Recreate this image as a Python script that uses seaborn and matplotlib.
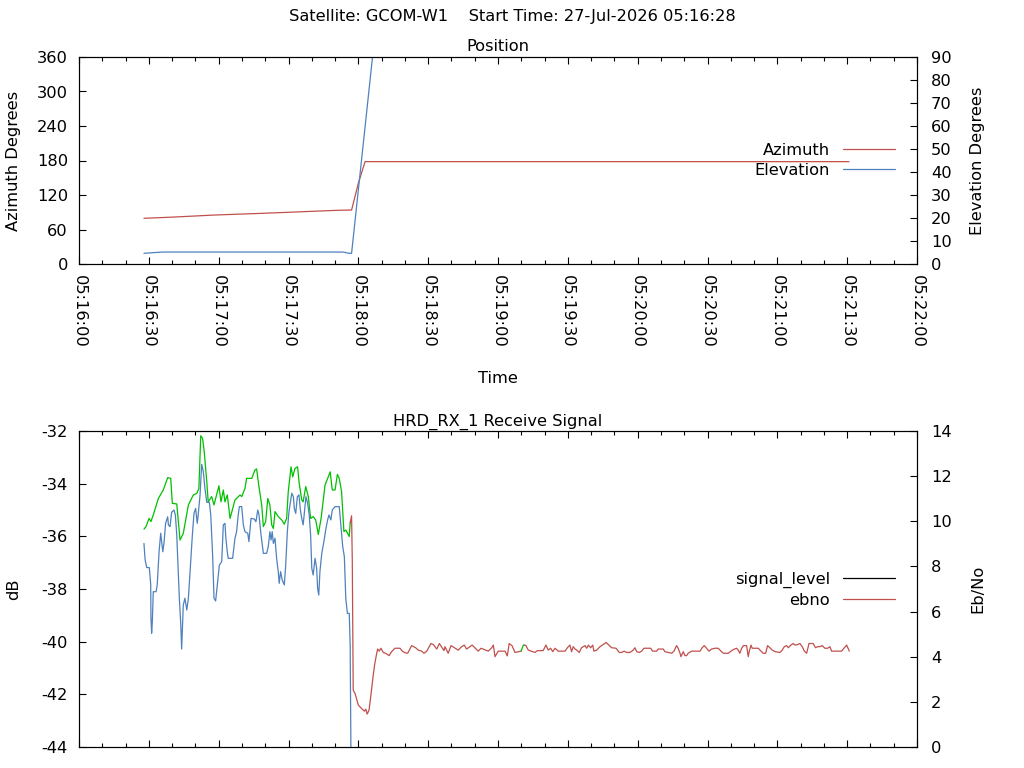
import pandas as pd
import matplotlib
matplotlib.use("Agg")
import matplotlib.pyplot as plt
import matplotlib.dates as mdates
from matplotlib.lines import Line2D
import seaborn as sns

START = pd.Timestamp("2026-07-27 05:16:00")

# all times are seconds after 05:16:00
az_t = [27.9, 38.4, 58.4, 79.2, 100.0, 110.4, 117.1, 120.0, 122.9, 330.8]
az_deg = [79.5, 81.2, 85.2, 88.2, 91.6, 93.3, 93.9, 140.3, 178.0, 178.0]

el_t = [27.9, 35.7, 113.4, 116.0, 117.1, 126.2]
el_deg = [4.65, 5.2, 5.2, 4.65, 4.65, 91.0]

# signal level while locked (green)
sig_lock_t = [27.9, 28.8, 30.1, 30.9, 31.9, 34.1, 36.2, 38.1, 39.4, 40.1,
              42.0, 43.4, 44.8, 47.0, 49.1, 50.6, 51.5, 52.3, 53.1, 53.8,
              54.9, 55.5, 57.0, 58.0, 60.1, 61.0, 62.0, 62.7, 63.7, 64.9,
              67.0, 69.2, 69.9, 71.3, 72.0, 74.2, 75.6, 76.3, 77.3, 78.5,
              79.2, 80.2, 81.1, 82.0, 82.8, 83.5, 84.2, 85.6, 87.1, 88.2,
              89.2, 89.9, 91.1, 91.8, 92.8, 93.9, 94.6, 95.7, 96.3, 97.4,
              98.5, 99.5, 100.6, 101.7, 102.8, 104.0, 105.7, 107.4, 107.9, 108.8,
              110.0, 111.0, 111.8, 112.8, 113.8, 114.6, 115.4, 116.1, 116.5]
sig_lock_db = [-35.73, -35.63, -35.32, -35.44, -35.19, -34.56, -34.24, -33.77, -33.80, -34.75,
               -34.77, -36.14, -35.89, -34.81, -34.43, -34.37, -34.18, -32.18, -32.28, -32.79,
               -33.93, -34.69, -34.49, -34.81, -34.08, -34.69, -34.24, -34.69, -34.43, -35.32,
               -34.62, -34.43, -34.49, -34.18, -33.80, -33.80, -33.48, -33.44, -34.11, -34.81,
               -35.63, -35.44, -34.56, -34.81, -35.57, -35.70, -35.06, -35.25, -35.38, -35.54,
               -35.32, -34.30, -33.36, -33.74, -33.42, -33.36, -33.99, -34.62, -34.69, -34.11,
               -34.49, -35.32, -35.25, -35.38, -35.93, -35.32, -34.05, -33.67, -33.55, -34.24,
               -34.24, -33.65, -33.80, -34.30, -35.82, -35.76, -35.89, -36.01, -35.48]

# signal level after loss of lock (red)
sig_lost1_t = [116.5, 117.1, 117.4, 117.8, 118.6, 120.0, 121.4, 122.6, 123.2, 123.8,
               124.6, 125.4, 126.4, 127.1, 127.9, 128.3, 129.0, 129.7, 130.7, 131.7,
               133.2, 134.3, 135.7, 137.9, 138.9, 140.0, 141.2, 141.9, 142.9, 144.6,
               145.7, 147.2, 148.2, 149.4, 151.2, 152.2, 153.7, 154.8, 156.8, 157.2,
               158.6, 159.8, 162.9, 164.4, 165.5, 166.5, 168.9, 171.5, 172.7, 175.8,
               177.3, 178.0, 178.7, 180.1, 183.0, 184.0, 184.8, 186.0, 187.3, 189.9]
sig_lost1_db = [-35.48, -35.22, -36.90, -41.84, -41.97, -42.41, -42.54, -42.64, -42.56, -42.75,
                -42.60, -42.03, -41.27, -40.82, -40.44, -40.28, -40.36, -40.25, -40.41, -40.44,
                -40.53, -40.38, -40.25, -40.25, -40.36, -40.42, -40.44, -40.32, -40.15, -40.23,
                -40.32, -40.36, -40.44, -40.36, -40.07, -40.11, -40.28, -40.07, -40.34, -40.19,
                -40.44, -40.15, -40.32, -40.19, -40.13, -40.28, -40.13, -40.36, -40.25, -40.36,
                -40.23, -40.13, -40.57, -40.36, -40.36, -40.54, -40.07, -40.15, -40.41, -40.36]

sig_relock_t = [189.9, 190.9, 191.3]
sig_relock_db = [-40.36, -40.13, -40.13]

sig_lost2_t = [191.3, 192.0, 193.0, 195.9, 196.9, 199.4, 200.6, 201.6, 202.6, 203.5,
               204.5, 205.9, 208.8, 209.8, 210.9, 211.6, 212.3, 213.1, 213.8, 214.9,
               215.9, 217.4, 218.1, 218.8, 219.8, 220.7, 221.2, 222.4, 223.8, 225.2,
               226.4, 227.4, 228.8, 230.7, 232.1, 233.1, 234.1, 235.3, 236.7, 238.1,
               238.8, 239.6, 240.7, 241.7, 242.7, 245.6, 246.4, 248.2, 248.8, 251.0,
               251.7, 254.6, 255.6, 256.7, 257.4, 258.2, 258.6, 259.6, 260.3, 261.0,
               261.7, 263.2, 266.8, 267.7, 268.6, 269.6, 270.6, 271.8, 273.2, 274.6,
               275.8, 276.8, 278.9, 280.1, 281.1, 282.5, 283.2, 283.9, 284.7, 285.4,
               286.8, 287.5, 287.9, 288.7, 289.2, 291.8, 293.0, 293.9, 295.0, 295.8,
               296.8, 297.8, 299.0, 301.1, 302.1, 303.0, 304.0, 304.7, 305.8, 306.8,
               307.6, 308.7, 309.7, 310.7, 311.6, 312.6, 313.6, 315.4, 316.4, 317.3,
               318.3, 319.3, 320.4, 321.6, 322.6, 323.3, 326.2, 327.6, 328.8, 329.8,
               330.9]
sig_lost2_db = [-40.13, -40.15, -40.32, -40.41, -40.34, -40.34, -40.13, -40.32, -40.25, -40.38,
                -40.25, -40.36, -40.36, -40.23, -40.13, -40.38, -40.19, -40.28, -40.32, -40.41,
                -40.23, -40.15, -40.25, -40.13, -40.23, -40.13, -40.36, -40.32, -40.19, -40.11,
                -40.03, -40.11, -40.23, -40.25, -40.41, -40.41, -40.36, -40.41, -40.41, -40.32,
                -40.23, -40.38, -40.41, -40.36, -40.25, -40.25, -40.36, -40.36, -40.28, -40.28,
                -40.38, -40.44, -40.36, -40.15, -40.25, -40.44, -40.57, -40.38, -40.53, -40.53,
                -40.44, -40.36, -40.36, -40.23, -40.15, -40.25, -40.36, -40.28, -40.25, -40.25,
                -40.36, -40.44, -40.44, -40.36, -40.30, -40.25, -40.32, -40.44, -40.25, -40.15,
                -40.15, -40.57, -40.38, -40.13, -40.25, -40.25, -40.36, -40.44, -40.44, -40.15,
                -40.23, -40.32, -40.38, -40.41, -40.32, -40.19, -40.15, -40.23, -40.13, -40.07,
                -40.13, -40.11, -40.07, -40.19, -40.36, -40.44, -40.07, -40.07, -40.23, -40.19,
                -40.19, -40.15, -40.25, -40.25, -40.19, -40.36, -40.36, -40.36, -40.23, -40.13,
                -40.36]

# Eb/No (blue)
ebno_t = [27.9, 28.4, 29.1, 30.2, 30.8, 30.9, 31.2, 31.5, 31.9, 33.1,
          33.6, 34.4, 35.1, 35.5, 36.0, 36.5, 37.2, 38.1, 38.4, 39.1,
          39.8, 40.8, 41.4, 42.0, 42.4, 43.1, 43.7, 44.1, 44.5, 44.8,
          45.5, 46.3, 47.0, 47.7, 48.7, 49.4, 50.1, 50.8, 51.2, 52.0,
          52.7, 53.4, 54.1, 54.9, 56.0, 56.6, 57.4, 58.0, 58.7, 59.4,
          60.3, 61.3, 62.0, 62.7, 63.1, 63.7, 64.1, 66.0, 67.0, 67.7,
          68.4, 68.9, 69.9, 70.6, 71.3, 72.5, 73.0, 73.9, 75.3, 76.0,
          76.8, 77.3, 78.2, 79.2, 80.6, 81.3, 82.0, 82.5, 83.0, 83.5,
          84.2, 84.9, 85.6, 86.0, 86.6, 87.3, 88.2, 88.8, 89.5, 90.2,
          91.4, 92.1, 92.5, 93.1, 93.8, 94.5, 95.1, 95.7, 96.3, 96.8,
          97.5, 98.2, 98.9, 99.5, 100.0, 100.6, 101.4, 102.1, 102.5, 103.0,
          103.5, 104.3, 105.2, 106.1, 106.8, 107.4, 108.2, 108.8, 110.0, 111.8,
          112.5, 113.3, 114.0, 114.6, 115.3, 116.1, 116.5, 116.7, 116.8]
ebno_val = [9.02, 8.29, 7.95, 7.95, 7.21, 5.77, 5.04, 5.55, 6.88, 6.88,
            7.18, 8.65, 9.47, 9.10, 8.65, 9.02, 9.91, 10.20, 9.84, 9.76,
            10.40, 10.50, 10.28, 9.39, 8.36, 6.59, 5.48, 4.34, 5.41, 6.29,
            6.59, 6.07, 6.59, 7.77, 9.39, 10.35, 10.57, 9.91, 10.28, 11.17,
            12.52, 12.20, 11.46, 10.84, 10.84, 10.28, 8.51, 6.59, 6.47, 7.18,
            8.06, 8.21, 9.84, 9.91, 9.25, 8.65, 8.36, 8.36, 9.25, 9.54,
            10.28, 10.65, 10.65, 9.84, 9.54, 9.47, 9.10, 10.13, 10.10, 9.98,
            10.50, 10.31, 9.39, 8.58, 8.58, 8.87, 9.54, 9.17, 9.54, 9.02,
            9.25, 8.36, 7.77, 7.25, 7.77, 7.40, 7.18, 8.06, 9.54, 10.43,
            11.24, 11.09, 10.57, 10.35, 11.09, 11.17, 10.50, 10.13, 9.84, 10.35,
            11.09, 10.80, 10.28, 9.39, 7.92, 7.62, 8.36, 7.92, 7.03, 6.73,
            7.77, 8.58, 9.10, 9.69, 10.06, 10.28, 10.06, 10.50, 10.65, 10.65,
            9.84, 8.87, 8.43, 6.59, 5.92, 5.92, 4.44, 1.42, 0.0]

RED = "#c0504d"
BLUE = "#4f81bd"
GREEN = "#00c000"
LW = 0.9
FS = 11.7


def to_time(secs):
    return START + pd.to_timedelta(secs, unit="s")


def style_time_axis(ax, labels=True):
    ax.set_xlim(START, START + pd.Timedelta(seconds=360))
    ax.xaxis.set_major_locator(mdates.SecondLocator(bysecond=[0, 30]))
    ax.xaxis.set_minor_locator(mdates.SecondLocator(bysecond=[10, 20, 40, 50]))
    ax.xaxis.set_major_formatter(mdates.DateFormatter("%H:%M:%S"))
    ax.tick_params(axis="x", which="both", direction="in", top=True, bottom=True,
                   labelrotation=-90, pad=8, labelbottom=labels)
    ax.tick_params(axis="x", which="major", length=5, width=0.8)
    ax.tick_params(axis="x", which="minor", length=3, width=0.8)
    for lbl in ax.get_xticklabels():
        lbl.set_ha("center")
        lbl.set_va("top")


sns.set_style("white")
plt.rcParams["font.family"] = ["DejaVu Sans"]
plt.rcParams["font.size"] = FS
plt.rcParams["axes.unicode_minus"] = False
plt.rcParams["axes.edgecolor"] = "black"
plt.rcParams["axes.linewidth"] = 0.8
plt.rcParams["xtick.color"] = "black"
plt.rcParams["ytick.color"] = "black"
plt.rcParams["text.color"] = "black"
plt.rcParams["axes.labelcolor"] = "black"

fig = plt.figure(figsize=(10.24, 7.68), dpi=100)
fig.text(0.5, 1 - 17 / 768, "Satellite: GCOM-W1    Start Time: 27-Jul-2026 05:16:28",
         ha="center", va="center", fontsize=FS)

# ---- Position panel ----
ax1 = fig.add_axes([79 / 1024, 1 - 264 / 768, 838 / 1024, 207 / 768])
ax2 = ax1.twinx()
sns.lineplot(x=to_time(az_t), y=az_deg, ax=ax1, color=RED, lw=LW,
             estimator=None, legend=False)
sns.lineplot(x=to_time(el_t), y=el_deg, ax=ax2, color=BLUE, lw=LW,
             estimator=None, legend=False)

ax1.set_ylim(0, 360)
ax1.set_yticks(range(0, 361, 60))
ax2.set_ylim(0, 90)
ax2.set_yticks(range(0, 91, 10))
style_time_axis(ax1)
ax1.tick_params(axis="y", direction="in", left=True, right=False, length=5, width=0.8, pad=8)
ax2.tick_params(axis="y", direction="in", right=True, length=5, width=0.8, pad=10)

ax1.set_title("Position", fontsize=FS, pad=4)
ax1.set_xlabel("Time")
ax1.xaxis.set_label_coords(0.5, (264 - 371) / 207)
ax1.set_ylabel("Azimuth Degrees")
ax1.yaxis.label.set_va("center")
ax1.yaxis.set_label_coords((14 - 79) / 838, 0.5)
ax2.set_ylabel("Elevation Degrees", rotation=90)
ax2.yaxis.label.set_va("center")
ax2.yaxis.set_label_coords((978 - 79) / 838, 0.5)

ax2.legend([Line2D([], [], color=RED, lw=LW), Line2D([], [], color=BLUE, lw=LW)],
           ["Azimuth", "Elevation"], loc="upper right",
           bbox_to_anchor=(0.974, (264 - 143) / 207), frameon=False, markerfirst=False,
           handlelength=3.2, handletextpad=0.8, labelspacing=0.3,
           borderpad=0, borderaxespad=0, fontsize=FS)

# ---- Receive signal panel ----
ax3 = fig.add_axes([79 / 1024, 21 / 768, 838 / 1024, 316 / 768])
ax4 = ax3.twinx()
sns.lineplot(x=to_time(sig_lock_t), y=sig_lock_db, ax=ax3, color=GREEN, lw=LW,
             estimator=None, legend=False)
sns.lineplot(x=to_time(sig_lost1_t), y=sig_lost1_db, ax=ax3, color=RED, lw=LW,
             estimator=None, legend=False)
sns.lineplot(x=to_time(sig_relock_t), y=sig_relock_db, ax=ax3, color=GREEN, lw=LW,
             estimator=None, legend=False)
sns.lineplot(x=to_time(sig_lost2_t), y=sig_lost2_db, ax=ax3, color=RED, lw=LW,
             estimator=None, legend=False)
sns.lineplot(x=to_time(ebno_t), y=ebno_val, ax=ax4, color=BLUE, lw=LW,
             estimator=None, legend=False)

ax3.set_ylim(-44, -32)
ax3.set_yticks(range(-44, -31, 2))
ax4.set_ylim(0, 14)
ax4.set_yticks(range(0, 15, 2))
# the time labels of this panel fall below the bottom edge of the picture
style_time_axis(ax3, labels=False)
ax3.tick_params(axis="y", direction="in", left=True, right=False, length=5, width=0.8, pad=8)
ax4.tick_params(axis="y", direction="in", right=True, length=5, width=0.8, pad=10)

ax3.set_title("HRD_RX_1 Receive Signal", fontsize=FS, pad=4)
ax3.set_xlabel("")
ax3.set_ylabel("dB")
ax3.yaxis.label.set_va("center")
ax3.yaxis.set_label_coords((14 - 79) / 838, 0.5)
ax4.set_ylabel("Eb/No", rotation=90)
ax4.yaxis.label.set_va("center")
ax4.yaxis.set_label_coords((978 - 79) / 838, 0.5)

ax4.legend([Line2D([], [], color="black", lw=LW), Line2D([], [], color=RED, lw=LW)],
           ["signal_level", "ebno"], loc="upper right",
           bbox_to_anchor=(0.974, (747 - 572) / 316), frameon=False, markerfirst=False,
           handlelength=3.2, handletextpad=0.8, labelspacing=0.3,
           borderpad=0, borderaxespad=0, fontsize=FS)

fig.savefig("out.png", dpi=100)
